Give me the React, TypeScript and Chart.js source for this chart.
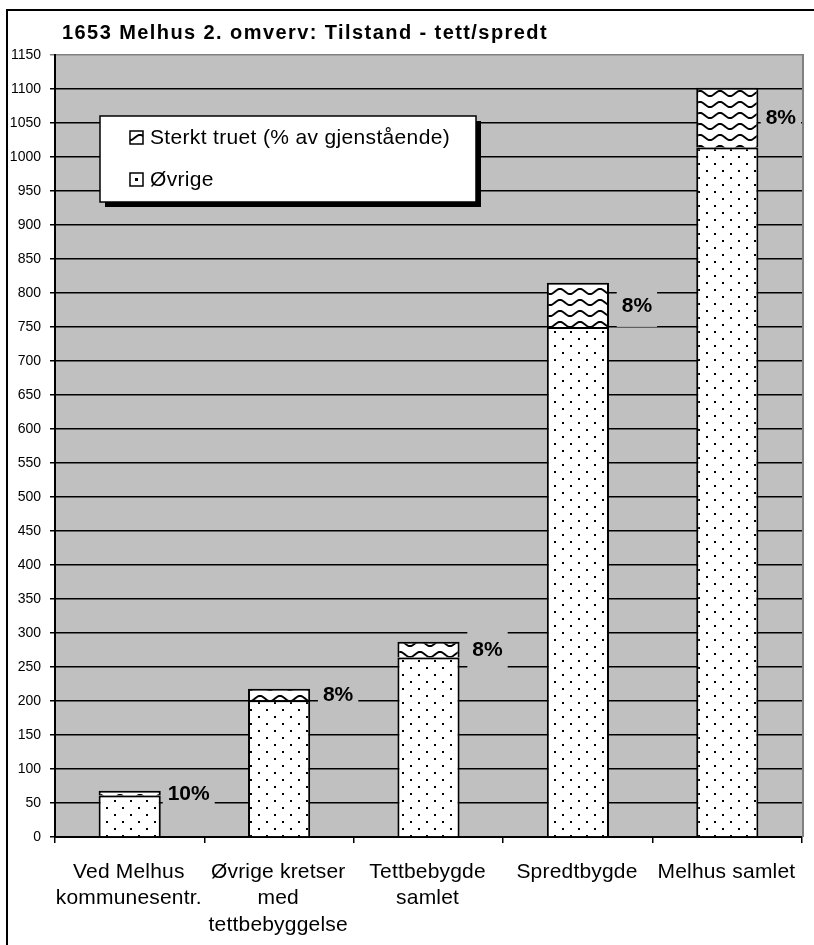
import React, { useEffect, useRef } from 'react';
import { Chart, registerables } from 'chart.js';

Chart.register(...registerables);

// ---- data ----
const chartTitle = '1653 Melhus 2. omverv: Tilstand - tett/spredt';
const categories: string[][] = [
  ['Ved Melhus', 'kommunesentr.'],
  ['Øvrige kretser', 'med', 'tettbebyggelse'],
  ['Tettbebygde', 'samlet'],
  ['Spredtbygde'],
  ['Melhus samlet'],
];
const seriesNames = ['Sterkt truet (% av gjenstående)', 'Øvrige'];
const ovrigeValues = [61, 201, 264, 750, 1014];
const sterktValues = [7, 17, 23, 65, 88];
const percentLabels = ['10%', '8%', '8%', '8%', '8%'];
const yMin = 0;
const yMax = 1150;
const yStep = 50;

const FONT = '"Liberation Sans", Arial, Helvetica, sans-serif';
const PLOT_BG = '#c0c0c0';

function makeDots(): CanvasPattern | string {
  const c = document.createElement('canvas');
  c.width = 16;
  c.height = 14;
  const g = c.getContext('2d');
  if (!g) return '#fff';
  g.fillStyle = '#fff';
  g.fillRect(0, 0, 16, 14);
  g.fillStyle = '#000';
  g.fillRect(2, 2, 2, 2);
  g.fillRect(10, 9, 2, 2);
  return g.createPattern(c, 'repeat') || '#fff';
}

function makeWave(): CanvasPattern | string {
  const c = document.createElement('canvas');
  c.width = 20;
  c.height = 11;
  const g = c.getContext('2d');
  if (!g) return '#fff';
  g.fillStyle = '#fff';
  g.fillRect(0, 0, 20, 11);
  g.strokeStyle = '#000';
  g.lineWidth = 2;
  g.beginPath();
  for (let x = -1; x <= 21; x++) {
    const y = 5.5 - 2.6 * Math.cos((2 * Math.PI * x) / 20);
    if (x === -1) g.moveTo(x, y);
    else g.lineTo(x, y);
  }
  g.stroke();
  return g.createPattern(c, 'repeat') || '#fff';
}

function fitSpacing(ctx: CanvasRenderingContext2D, text: string, target: number): number {
  (ctx as any).letterSpacing = '0px';
  const w = ctx.measureText(text).width;
  return (target - w) / Math.max(1, text.length);
}

export default function App() {
  const ref = useRef<HTMLCanvasElement>(null);

  useEffect(() => {
    document.body.style.margin = '0';
    const canvas = ref.current;
    if (!canvas) return;
    const dots = makeDots();
    const wave = makeWave();

    const custom = {
      id: 'customDecor',
      beforeDraw(chart: any) {
        const { ctx, chartArea } = chart;
        ctx.save();
        ctx.fillStyle = '#fff';
        ctx.fillRect(0, 0, chart.width, chart.height);
        ctx.fillStyle = PLOT_BG;
        ctx.fillRect(chartArea.left, chartArea.top, chartArea.right - chartArea.left, chartArea.bottom - chartArea.top);
        ctx.restore();
      },
      afterDatasetsDraw(chart: any) {
        const { ctx, chartArea } = chart;
        const meta = chart.getDatasetMeta(1);
        ctx.save();
        ctx.font = `bold 21px ${FONT}`;
        ctx.textAlign = 'center';
        ctx.textBaseline = 'middle';
        meta.data.forEach((el: any, i: number) => {
          const txt = percentLabels[i];
          const tw = ctx.measureText(txt).width;
          const bw = tw + 10;
          const bh = 44;
          let cx = el.x + 59;
          if (cx + bw / 2 > chartArea.right - 1) cx = chartArea.right - 1 - bw / 2;
          const cy = (el.y + el.base) / 2;
          ctx.fillStyle = PLOT_BG;
          ctx.fillRect(cx - bw / 2, cy - bh / 2, bw, bh);
          ctx.fillStyle = '#000';
          ctx.fillText(txt, cx, cy + 1);
        });
        ctx.restore();
      },
      afterDraw(chart: any) {
        const { ctx, chartArea } = chart;
        const xs = chart.scales.x;
        ctx.save();

        // plot area right border
        ctx.fillStyle = '#808080';
        ctx.fillRect(chartArea.right, chartArea.top - 1, 2, chartArea.bottom - chartArea.top + 1);

        // title
        ctx.fillStyle = '#000';
        ctx.font = `bold 20px ${FONT}`;
        ctx.textAlign = 'left';
        ctx.textBaseline = 'alphabetic';
        const ts = fitSpacing(ctx, chartTitle, 486);
        (ctx as any).letterSpacing = `${ts}px`;
        ctx.fillText(chartTitle, 62, 39);

        // x labels
        ctx.font = `21px ${FONT}`;
        const xsp = fitSpacing(ctx, 'kommunesentr.', 146);
        (ctx as any).letterSpacing = `${xsp}px`;
        ctx.textAlign = 'center';
        ctx.textBaseline = 'middle';
        categories.forEach((lines, i) => {
          const cx = xs.getPixelForValue(i);
          lines.forEach((ln, j) => {
            ctx.fillText(ln, cx + xsp / 2 - 1, 872 + j * 26.5);
          });
        });

        // legend
        (ctx as any).letterSpacing = '0px';
        const lx = 100, ly = 116, lw = 376, lh = 86;
        ctx.fillStyle = '#000';
        ctx.fillRect(lx + 5, ly + 5, lw, lh);
        ctx.fillStyle = '#fff';
        ctx.fillRect(lx, ly, lw, lh);
        ctx.strokeStyle = '#000';
        ctx.lineWidth = 1.5;
        ctx.strokeRect(lx, ly, lw, lh);

        // icons
        ctx.fillStyle = wave as any;
        ctx.fillRect(130, 131, 13, 13);
        ctx.strokeRect(130, 131, 13, 13);
        ctx.fillStyle = '#fff';
        ctx.fillRect(130, 173, 13, 13);
        ctx.strokeRect(130, 173, 13, 13);
        ctx.fillStyle = '#000';
        ctx.fillRect(135, 178, 3, 3);

        ctx.font = `21px ${FONT}`;
        const lsp = fitSpacing(ctx, seriesNames[0], 300);
        (ctx as any).letterSpacing = `${lsp}px`;
        ctx.textAlign = 'left';
        ctx.textBaseline = 'middle';
        ctx.fillStyle = '#000';
        ctx.fillText(seriesNames[0], 150, 138);
        ctx.fillText(seriesNames[1], 150, 180);
        (ctx as any).letterSpacing = '0px';

        // outer frame
        ctx.fillStyle = '#000';
        ctx.fillRect(6, 9, 2, chart.height - 9);
        ctx.fillRect(6, 9, chart.width - 6, 2);
        ctx.restore();
      },
    };

    const chart = new Chart(canvas, {
      type: 'bar',
      data: {
        labels: categories.map((c) => c.join(' ')),
        datasets: [
          {
            label: seriesNames[1],
            data: ovrigeValues,
            backgroundColor: dots as any,
            borderColor: '#000',
            borderWidth: { top: 2, left: 2, right: 2, bottom: 0 },
            borderSkipped: false,
            barPercentage: 0.416,
            categoryPercentage: 1,
          },
          {
            label: seriesNames[0],
            data: sterktValues,
            backgroundColor: wave as any,
            borderColor: '#000',
            borderWidth: { top: 2, left: 2, right: 2, bottom: 0 },
            borderSkipped: false,
            barPercentage: 0.416,
            categoryPercentage: 1,
          },
        ],
      },
      options: {
        responsive: false,
        animation: false,
        devicePixelRatio: 1,
        layout: { padding: { left: 0, right: 12, top: 55, bottom: 0 } },
        plugins: {
          legend: { display: false },
          title: { display: false },
          tooltip: { enabled: false },
        },
        scales: {
          x: {
            stacked: true,
            offset: true,
            grid: {
              display: true,
              offset: true,
              drawOnChartArea: false,
              drawTicks: true,
              tickLength: 6,
              color: '#000',
              lineWidth: 1.5,
            },
            border: { display: true, color: '#000', width: 2 },
            ticks: { display: false },
            afterFit: (s: any) => {
              s.height = 108;
            },
          },
          y: {
            stacked: true,
            min: yMin,
            max: yMax,
            ticks: {
              stepSize: yStep,
              autoSkip: false,
              color: '#000',
              padding: 9,
              font: { family: FONT, size: 14 },
              callback: (v: any) => String(v),
            },
            grid: {
              color: (c: any) => (c.tick && c.tick.value === yMax ? '#808080' : '#000'),
              lineWidth: 1.5,
              drawTicks: true,
              tickLength: 5,
            },
            border: { display: true, color: '#000', width: 2 },
            afterFit: (s: any) => {
              s.width = 55;
            },
          },
        },
      },
      plugins: [custom],
    } as any);

    return () => chart.destroy();
  }, []);

  return (
    <div style={{ position: 'absolute', left: 0, top: 0, width: 814, height: 945 }}>
      <canvas ref={ref} width={814} height={945} style={{ display: 'block', width: 814, height: 945 }} />
    </div>
  );
}
